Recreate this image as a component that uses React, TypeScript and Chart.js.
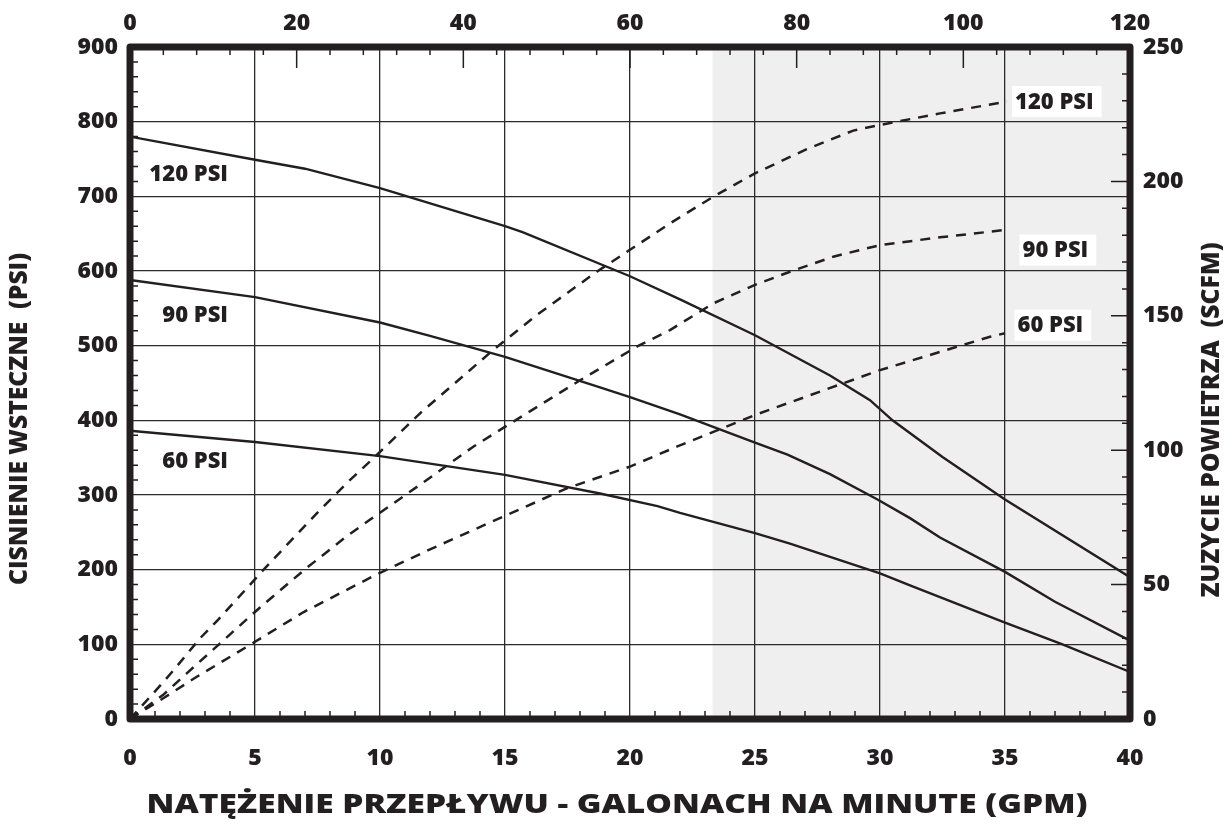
import React, { useEffect, useRef } from 'react';
import { Chart, registerables } from 'chart.js';

Chart.register(...registerables);

const W = 1232;
const H = 832;

// ---- Data ----
// Back pressure curves (PSI, left axis) vs flow (GPM)
const P120_GPM = [0, 5, 7, 10, 15, 15.7, 20, 22, 25, 28, 29.6, 30.5, 32.5, 35, 40];
const P120_PSI = [780, 749, 737, 711, 660, 652, 593, 562, 514, 460, 427, 400, 351, 294, 190];

const P90_GPM = [0, 5, 10, 12, 15, 18.8, 20, 22, 25, 26.3, 28, 29.9, 31.2, 32.4, 35, 37, 40];
const P90_PSI = [588, 565, 531, 513, 485, 444, 431, 408, 370, 354, 328, 294, 269, 243, 197, 157, 105];

const P60_GPM = [0, 5, 10, 12, 15, 18.8, 21.1, 22, 25, 26.4, 30, 31.2, 35, 37.3, 40];
const P60_PSI = [386, 371, 352, 342, 327, 302, 285, 276, 249, 235, 195, 179, 129, 100, 63];

// Air consumption curves (SCFM, right axis) vs flow (GPM)
const A120_GPM = [0, 1.07, 1.73, 2.8, 3.53, 4.67, 5.27, 6.4, 7.53, 8.73, 9.87, 11.6, 14.53, 16.27, 18.67, 20.4, 21.6, 23.33, 25, 27.07, 28.93, 30, 32.4, 35.07];
const A120_SCFM = [0, 11, 18, 30, 37, 48.6, 54.8, 66, 77.1, 88.3, 98.2, 113.7, 137.3, 150.3, 166.4, 177, 184.4, 194.3, 203, 212, 218.9, 221, 225.3, 229.7];

const A90_GPM = [0, 1.33, 2.27, 3.47, 4.6, 5.2, 7, 8.67, 9.87, 11.87, 13.73, 15.33, 18, 20.27, 21.6, 23.33, 25, 26.4, 28.13, 30, 32.4, 35.07];
const A90_SCFM = [0, 9, 17, 27, 36.5, 41.5, 55.7, 68, 75.9, 88.9, 101.3, 110.6, 126, 138.5, 144.7, 154.6, 161.5, 166.4, 172, 176.3, 179.2, 182];

const A60_GPM = [0, 1.33, 2.67, 4.73, 6.93, 9.87, 12, 14.93, 17.47, 20, 21.87, 25, 30, 34.4, 35];
const A60_SCFM = [0, 7.7, 15.7, 27.2, 39.7, 53.8, 63.1, 75.3, 85.8, 93.9, 101.3, 113.1, 129.8, 142.2, 143.5];

// Shaded region start (GPM)
const SHADE_START_GPM = 23.3;

// Axis ranges / tick steps
const GPM_RANGE = [0, 40];
const PSI_RANGE = [0, 900];
const SCFM_RANGE = [0, 250];
const LPM_RANGE = [0, 120];

// Curve labels (anchor in data coordinates)
const LEFT_LABELS = [
  { text: '120 PSI', gpm: 3.92, psi: 729 },
  { text: '90 PSI', gpm: 3.92, psi: 540 },
  { text: '60 PSI', gpm: 3.92, psi: 344 },
];
const RIGHT_LABELS = [
  { text: '120 PSI', gpm: 35.4, scfm: 229.7 },
  { text: '90 PSI', gpm: 35.7, scfm: 174.5 },
  { text: '60 PSI', gpm: 35.5, scfm: 146.5 },
];

const TITLE_X = 'NATĘŻENIE PRZEPŁYWU - GALONACH NA MINUTE (GPM)';
const TITLE_Y = 'CISNIENIE WSTECZNE  (PSI)';
const TITLE_Y2 = 'ZUZYCIE POWIETRZA  (SCFM)';

const INK = '#231f20';
const FONT = '"Open Sans", "DejaVu Sans", sans-serif';

function zip(xs: number[], ys: number[]) {
  return xs.map((x, i) => ({ x, y: ys[i] }));
}

function drawFitted(ctx: CanvasRenderingContext2D, text: string, cx: number, cy: number, targetW: number, font: string, rot: number) {
  ctx.save();
  ctx.font = font;
  const w = ctx.measureText(text).width;
  ctx.translate(cx, cy);
  if (rot) ctx.rotate(rot);
  ctx.scale(targetW / w, 1);
  ctx.textAlign = 'center';
  ctx.textBaseline = 'middle';
  ctx.fillStyle = INK;
  ctx.fillText(text, 0, 0);
  ctx.restore();
}

const backgroundPlugin = {
  id: 'bgShade',
  beforeDraw(chart: any) {
    const { ctx, chartArea } = chart;
    const xs = chart.scales.x;
    ctx.save();
    ctx.fillStyle = '#ffffff';
    ctx.fillRect(0, 0, chart.width, chart.height);
    const x0 = xs.getPixelForValue(SHADE_START_GPM);
    ctx.fillStyle = '#efefef';
    ctx.fillRect(x0, chartArea.top, chartArea.right - x0, chartArea.bottom - chartArea.top);
    ctx.restore();
  },
};

const decorPlugin = {
  id: 'decor',
  afterDatasetsDraw(chart: any) {
    const { ctx, chartArea } = chart;
    const { left, right, top, bottom } = chartArea;
    const sx = chart.scales.x;
    const sy = chart.scales.y;
    const sy2 = chart.scales.y2;
    const sx2 = chart.scales.x2;
    ctx.save();
    ctx.strokeStyle = INK;
    ctx.lineWidth = 1.5;
    ctx.beginPath();
    // left minor ticks every 20 PSI
    for (let v = 20; v < PSI_RANGE[1]; v += 20) {
      if (v % 100 === 0) continue;
      const y = sy.getPixelForValue(v);
      ctx.moveTo(left, y);
      ctx.lineTo(left + 8, y);
    }
    // bottom minor ticks every 1 GPM
    for (let g = 1; g < GPM_RANGE[1]; g += 1) {
      if (g % 5 === 0) continue;
      const x = sx.getPixelForValue(g);
      ctx.moveTo(x, bottom);
      ctx.lineTo(x, bottom - 8);
    }
    // top ticks every 4 LPM, long at 20
    for (let l = 4; l < LPM_RANGE[1]; l += 4) {
      const x = sx2.getPixelForValue(l);
      ctx.moveTo(x, top);
      ctx.lineTo(x, top + (l % 20 === 0 ? 21 : 8));
    }
    // right ticks every 10 SCFM, long at 50
    for (let s = 10; s < SCFM_RANGE[1]; s += 10) {
      const y = sy2.getPixelForValue(s);
      ctx.moveTo(right, y);
      ctx.lineTo(right - (s % 50 === 0 ? 19 : 8), y);
    }
    ctx.stroke();

    // curve labels
    ctx.font = `800 22px ${FONT}`;
    ctx.textBaseline = 'middle';
    ctx.fillStyle = INK;
    ctx.textAlign = 'right';
    for (const l of LEFT_LABELS) {
      ctx.fillText(l.text, sx.getPixelForValue(l.gpm), sy.getPixelForValue(l.psi));
    }
    ctx.textAlign = 'left';
    for (const l of RIGHT_LABELS) {
      const x = sx.getPixelForValue(l.gpm);
      const y = sy2.getPixelForValue(l.scfm);
      const w = ctx.measureText(l.text).width;
      ctx.fillStyle = '#ffffff';
      ctx.fillRect(x - 3, y - 15.5, w + 11, 31);
      ctx.fillStyle = INK;
      ctx.fillText(l.text, x, y + 1);
    }

    // frame
    ctx.lineWidth = 7;
    ctx.lineJoin = 'round';
    ctx.strokeStyle = INK;
    ctx.strokeRect(left, top, right - left, bottom - top);
    ctx.restore();
  },
  afterDraw(chart: any) {
    const { ctx } = chart;
    drawFitted(ctx, TITLE_X, 617, 806, 941, `800 26px ${FONT}`, 0);
    drawFitted(ctx, TITLE_Y, 20, 419, 332, `800 25px ${FONT}`, -Math.PI / 2);
    drawFitted(ctx, TITLE_Y2, 1212, 420, 355, `800 25px ${FONT}`, -Math.PI / 2);
  },
};

export default function App() {
  const ref = useRef<HTMLCanvasElement>(null);
  useEffect(() => {
    document.body.style.margin = '0';
    const canvas = ref.current!;
    const solid = (data: { x: number; y: number }[], label: string) => ({
      label,
      data,
      xAxisID: 'x',
      yAxisID: 'y',
      borderColor: INK,
      borderWidth: 2.4,
      pointRadius: 0,
      fill: false,
      tension: 0,
    });
    const dashed = (data: { x: number; y: number }[], label: string) => ({
      label,
      data,
      xAxisID: 'x',
      yAxisID: 'y2',
      borderColor: INK,
      borderWidth: 2.5,
      borderDash: [10, 8],
      pointRadius: 0,
      fill: false,
      tension: 0,
    });
    const tickFont = { family: FONT, size: 23, weight: 800 as any };
    const chart = new Chart(canvas, {
      type: 'line',
      data: {
        datasets: [
          solid(zip(P120_GPM, P120_PSI), '120 PSI'),
          solid(zip(P90_GPM, P90_PSI), '90 PSI'),
          solid(zip(P60_GPM, P60_PSI), '60 PSI'),
          dashed(zip(A120_GPM, A120_SCFM), '120 PSI air'),
          dashed(zip(A90_GPM, A90_SCFM), '90 PSI air'),
          dashed(zip(A60_GPM, A60_SCFM), '60 PSI air'),
        ] as any,
      },
      options: {
        responsive: false,
        animation: false,
        devicePixelRatio: 1,
        layout: { padding: 0 },
        plugins: { legend: { display: false }, tooltip: { enabled: false }, title: { display: false } },
        elements: { line: { borderCapStyle: 'butt' } },
        scales: {
          x: {
            type: 'linear',
            position: 'bottom',
            min: GPM_RANGE[0],
            max: GPM_RANGE[1],
            ticks: { stepSize: 5, color: INK, font: tickFont, padding: 26, maxRotation: 0 },
            grid: { color: '#2b2b2b', lineWidth: 1.3, drawTicks: false },
            border: { display: false },
            afterFit: (s: any) => { s.height = 113; },
          },
          x2: {
            type: 'linear',
            position: 'top',
            min: LPM_RANGE[0],
            max: LPM_RANGE[1],
            ticks: { stepSize: 20, color: INK, font: tickFont, padding: 10, maxRotation: 0 },
            grid: { display: false, drawTicks: false },
            border: { display: false },
            afterFit: (s: any) => { s.height = 47; },
          },
          y: {
            type: 'linear',
            position: 'left',
            min: PSI_RANGE[0],
            max: PSI_RANGE[1],
            ticks: { stepSize: 100, color: INK, font: tickFont, padding: 12 },
            grid: { color: '#2b2b2b', lineWidth: 1.3, drawTicks: false },
            border: { display: false },
            afterFit: (s: any) => { s.width = 130; },
          },
          y2: {
            type: 'linear',
            position: 'right',
            min: SCFM_RANGE[0],
            max: SCFM_RANGE[1],
            ticks: { stepSize: 50, color: INK, font: tickFont, padding: 13 },
            grid: { display: false, drawTicks: false },
            border: { display: false },
            afterFit: (s: any) => { s.width = 102; },
          },
        },
      } as any,
      plugins: [backgroundPlugin, decorPlugin],
    });
    return () => chart.destroy();
  }, []);
  return (
    <div style={{ width: W, height: H, position: 'relative' }}>
      <canvas ref={ref} width={W} height={H} style={{ display: 'block', width: W, height: H }} />
    </div>
  );
}
